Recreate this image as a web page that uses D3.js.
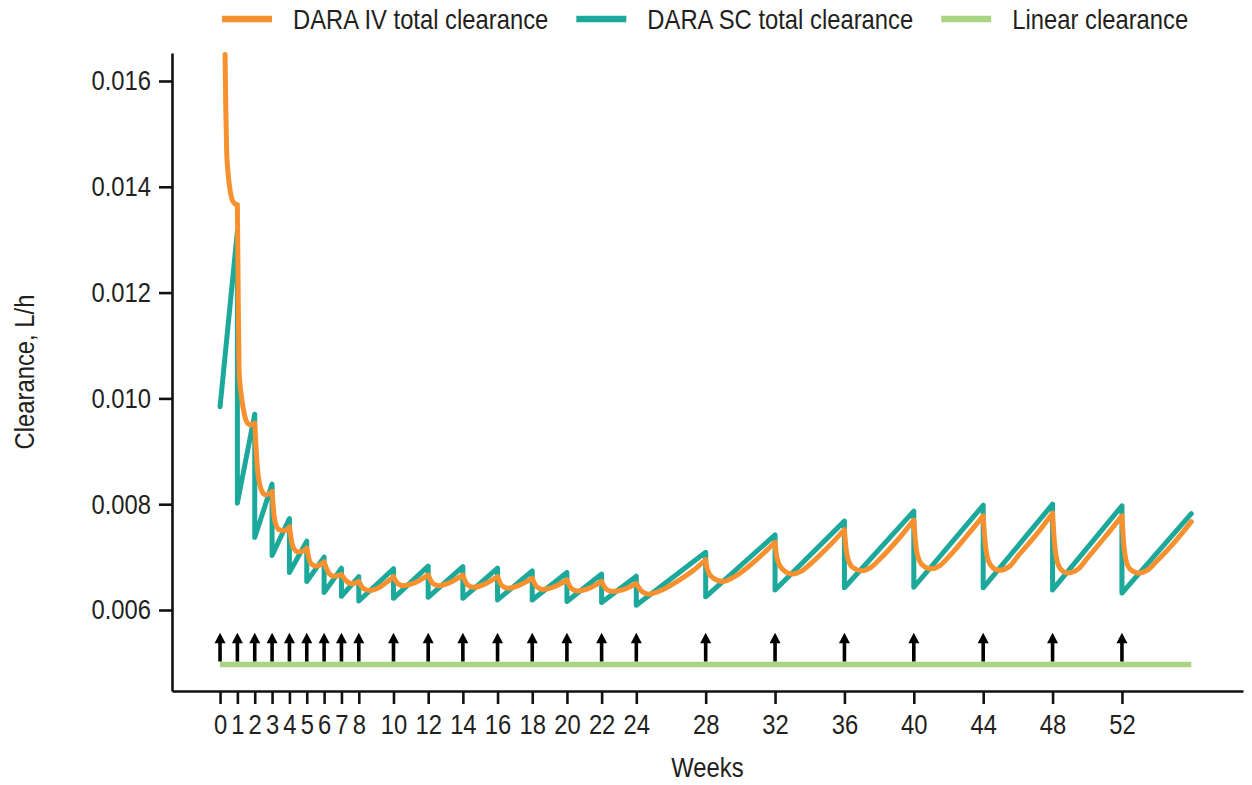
<!DOCTYPE html>
<html>
<head>
<meta charset="utf-8">
<script src="https://cdn.jsdelivr.net/npm/d3@7"></script>
<style>
  body { margin: 0; background: #ffffff; }
  text { font-family: "Liberation Sans", Arial, sans-serif; fill: #231f20; }
</style>
</head>
<body>
<script>
"use strict";

// tick labels on the week axis, doses happen at the same weeks
var weekTicks = [0, 1, 2, 3, 4, 5, 6, 7, 8, 10, 12, 14, 16, 18, 20, 22, 24, 28, 32, 36, 40, 44, 48, 52];
var doseWeeks = [0, 1, 2, 3, 4, 5, 6, 7, 8, 10, 12, 14, 16, 18, 20, 22, 24, 28, 32, 36, 40, 44, 48, 52];
var clearanceTicks = [0.006, 0.008, 0.010, 0.012, 0.014, 0.016];

var seriesNames = ["DARA IV total clearance", "DARA SC total clearance", "Linear clearance"];
var seriesColors = ["#f7912f", "#1ca89a", "#a8d483"];

// linear clearance, flat line
var linearClearance = [[0, 0.00497], [56, 0.00497]];

// SC: drop at each dose then straight rise to the next one
var scClearance = [
    [0, 0.00984], [1, 0.01316], [1, 0.00802], [2, 0.00970], [2, 0.00737],
    [3, 0.00838], [3, 0.00703], [4, 0.00773], [4, 0.00671], [5, 0.00730],
    [5, 0.00654], [6, 0.00700], [6, 0.00633], [7, 0.00679], [7, 0.00626],
    [8, 0.00663], [8, 0.00617], [10, 0.00678], [10, 0.00622], [12, 0.00683],
    [12, 0.00624], [14, 0.00682], [14, 0.00622], [16, 0.00679], [16, 0.00619],
    [18, 0.00674], [18, 0.00619], [20, 0.00671], [20, 0.00616], [22, 0.00668],
    [22, 0.00614], [24, 0.00664], [24, 0.00609], [28, 0.00709], [28, 0.00625],
    [32, 0.00742], [32, 0.00638], [36, 0.00768], [36, 0.00642], [40, 0.00787],
    [40, 0.00643], [44, 0.00798], [44, 0.00642], [48, 0.00800], [48, 0.00638],
    [52, 0.00797], [52, 0.00632], [56, 0.00782]
];

// IV: smooth curve, cusp at each dose
var ivClearance = [
    [0.29, 0.01650], [0.33, 0.01550], [0.38, 0.01470], [0.45, 0.01430], [0.55, 0.01400],
    [0.70, 0.01375], [0.85, 0.01368], [1, 0.01366],
    [1.04, 0.01220], [1.10, 0.01050], [1.25, 0.01000], [1.40, 0.00970], [1.55, 0.00955], [1.75, 0.00950], [2, 0.00953],
    [2.15, 0.00870], [2.35, 0.00830], [2.60, 0.00818], [2.85, 0.00820], [3, 0.00824],
    [3.15, 0.00770], [3.40, 0.00752], [3.70, 0.00750], [4, 0.00757],
    [4.20, 0.00720], [4.50, 0.00710], [4.80, 0.00712], [5, 0.00717],
    [5.20, 0.00690], [5.50, 0.00683], [5.80, 0.00686], [6, 0.00691],
    [6.25, 0.00671], [6.55, 0.00664], [6.80, 0.00665], [7, 0.00667],
    [7.25, 0.00656], [7.55, 0.00650], [7.80, 0.00651], [8, 0.00654],
    [8.30, 0.00640], [8.65, 0.00637], [9.20, 0.00643], [9.70, 0.00655], [10, 0.00663],
    [10.25, 0.00650], [10.55, 0.00646], [11.2, 0.00651], [11.7, 0.00660], [12, 0.00666],
    [12.25, 0.00651], [12.6, 0.00646], [13.2, 0.00651], [13.7, 0.00660], [14, 0.00666],
    [14.25, 0.00648], [14.6, 0.00643], [15.2, 0.00648], [15.7, 0.00657], [16, 0.00663],
    [16.25, 0.00646], [16.6, 0.00641], [17.2, 0.00646], [17.7, 0.00654], [18, 0.00660],
    [18.25, 0.00644], [18.6, 0.00639], [19.2, 0.00643], [19.7, 0.00651], [20, 0.00657],
    [20.25, 0.00641], [20.6, 0.00636], [21.2, 0.00640], [21.7, 0.00648], [22, 0.00654],
    [22.25, 0.00640], [22.6, 0.00635], [23.2, 0.00638], [23.7, 0.00645], [24, 0.00650],
    [24.3, 0.00636], [24.7, 0.00630], [25.5, 0.00638], [26.5, 0.00657], [27.3, 0.00675], [28, 0.00695],
    [28.1, 0.00676], [28.4, 0.00661], [29, 0.00654], [29.5, 0.00660], [30, 0.00670], [31, 0.00697], [32, 0.00728],
    [32.1, 0.00700], [32.4, 0.00678], [33, 0.00668], [33.5, 0.00673], [34, 0.00686], [35, 0.00717], [36, 0.00752],
    [36.08, 0.00720], [36.25, 0.00692], [36.5, 0.00680], [37, 0.00674], [37.5, 0.00680], [38, 0.00695], [39, 0.00730], [40, 0.00770],
    [40.08, 0.00735], [40.2, 0.00705], [40.5, 0.00685], [41, 0.00678], [41.5, 0.00684], [42, 0.00700], [43, 0.00738], [44, 0.00778],
    [44.08, 0.00740], [44.2, 0.00706], [44.45, 0.00684], [44.9, 0.00675], [45.5, 0.00682], [46, 0.00702], [47, 0.00740], [48, 0.00783],
    [48.08, 0.00740], [48.2, 0.00703], [48.45, 0.00678], [48.85, 0.00670], [49.5, 0.00678], [50, 0.00698], [51, 0.00737], [52, 0.00778],
    [52.08, 0.00735], [52.2, 0.00700], [52.45, 0.00678], [52.95, 0.00670], [53.5, 0.00676], [54, 0.00692], [55, 0.00727], [56, 0.00767]
];

var arrowTip = 0.00557;

var widthEcran = 1252, heightEcran = 785;
var plotLeft = 172, plotRight = 1243, plotTop = 53, plotBottom = 691;

function baseCanvas() {
    return d3.select("body").append("svg")
        .attr("width", widthEcran)
        .attr("height", heightEcran);
}

var canvas = baseCanvas();

var x = d3.scaleLinear().domain([-2.77, 58.98]).range([plotLeft, plotRight]);
var y = d3.scaleLinear().domain([0.004469, 0.016529]).range([plotBottom, plotTop]);

// no condensed font installed, squeeze the glyphs instead
function narrowText(sel) {
    sel.each(function () {
        var len = this.getComputedTextLength();
        d3.select(this)
            .attr("textLength", len * 0.85)
            .attr("lengthAdjust", "spacingAndGlyphs");
    });
}

function styleAxis(g) {
    g.attr("font-family", null);
    g.select(".domain").attr("stroke", "#111").attr("stroke-width", 2.6);
    g.selectAll(".tick line").attr("stroke", "#111").attr("stroke-width", 2.6);
    g.selectAll(".tick text").attr("font-size", 28).attr("fill", "#231f20").call(narrowText);
}

function drawAxes() {
    var xAxis = canvas.append("g")
        .attr("transform", "translate(0," + plotBottom + ")")
        .call(d3.axisBottom(x).tickValues(weekTicks).tickSize(13).tickPadding(10).tickSizeOuter(0));
    var yAxis = canvas.append("g")
        .attr("transform", "translate(" + plotLeft + ",0)")
        .call(d3.axisLeft(y).tickValues(clearanceTicks).tickFormat(d3.format(".3f"))
            .tickSize(13).tickPadding(8).tickSizeOuter(0));
    styleAxis(xAxis);
    styleAxis(yAxis);

    canvas.append("text")
        .attr("font-size", 28)
        .attr("text-anchor", "middle")
        .attr("transform", "translate(34," + ((plotTop + plotBottom) / 2) + ") rotate(-90)")
        .text("Clearance, L/h")
        .call(narrowText);
    canvas.append("text")
        .attr("font-size", 28)
        .attr("text-anchor", "middle")
        .attr("x", (plotLeft + plotRight) / 2)
        .attr("y", 777)
        .text("Weeks")
        .call(narrowText);
}

function drawLinear() {
    var line = d3.line().x(function (d) { return x(d[0]); }).y(function (d) { return y(d[1]); });
    canvas.append("path")
        .datum(linearClearance)
        .attr("d", line)
        .attr("fill", "none")
        .attr("stroke", seriesColors[2])
        .attr("stroke-width", 5.5);
}

function drawArrows() {
    var base = y(linearClearance[0][1]) - 3;
    var tip = y(arrowTip);
    var g = canvas.append("g").attr("class", "doses");
    doseWeeks.forEach(function (w) {
        g.append("line")
            .attr("x1", x(w)).attr("x2", x(w))
            .attr("y1", base).attr("y2", tip + 8)
            .attr("stroke", "#000")
            .attr("stroke-width", 3.6);
        g.append("path")
            .attr("d", "M" + x(w) + "," + tip + "L" + (x(w) + 5.5) + "," + (tip + 10.5) +
                "L" + (x(w) - 5.5) + "," + (tip + 10.5) + "Z")
            .attr("fill", "#000");
    });
}

function drawSC() {
    var line = d3.line().x(function (d) { return x(d[0]); }).y(function (d) { return y(d[1]); });
    canvas.append("path")
        .datum(scClearance)
        .attr("d", line)
        .attr("fill", "none")
        .attr("stroke", seriesColors[1])
        .attr("stroke-width", 5)
        .attr("stroke-linejoin", "round")
        .attr("stroke-linecap", "round");
}

function drawIV() {
    // one piece per dosing interval so the cusps stay sharp
    var segments = [], current = [];
    ivClearance.forEach(function (d, i) {
        current.push(d);
        if (i > 0 && doseWeeks.indexOf(d[0]) >= 0) {
            segments.push(current);
            current = [d];
        }
    });
    if (current.length > 1) segments.push(current);
    var line = d3.line().curve(d3.curveMonotoneX)
        .x(function (d) { return x(d[0]); }).y(function (d) { return y(d[1]); });
    canvas.append("path")
        .attr("d", segments.map(function (s) { return line(s); }).join(""))
        .attr("fill", "none")
        .attr("stroke", seriesColors[0])
        .attr("stroke-width", 5)
        .attr("stroke-linejoin", "round")
        .attr("stroke-linecap", "round");
}

function drawLegend() {
    var xPos = 222;
    seriesNames.forEach(function (name, i) {
        canvas.append("line")
            .attr("x1", xPos).attr("x2", xPos + 50)
            .attr("y1", 19).attr("y2", 19)
            .attr("stroke", seriesColors[i])
            .attr("stroke-width", 6.5);
        var t = canvas.append("text")
            .attr("font-size", 28)
            .attr("x", xPos + 71)
            .attr("y", 29)
            .text(name)
            .call(narrowText);
        xPos = xPos + 71 + (+t.attr("textLength")) + 28;
    });
}

drawAxes();
drawLinear();
drawArrows();
drawSC();
drawIV();
drawLegend();
</script>
</body>
</html>
